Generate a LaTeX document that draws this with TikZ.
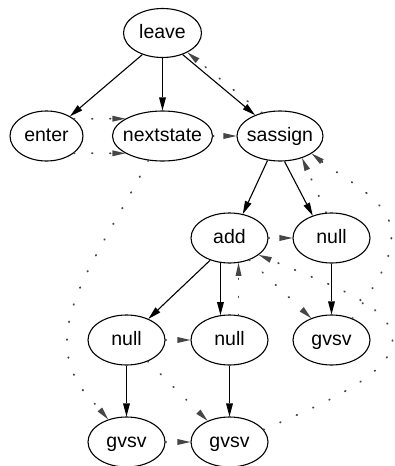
\documentclass[tikz,border=0pt]{standalone}
\usepackage{fontspec}
\setmainfont{Liberation Sans}
\usetikzlibrary{shapes.geometric,arrows.meta}
\definecolor{nextgray}{RGB}{70,70,70}
% zero-width label with fixed height/depth so all baselines line up
\newcommand\opname[1]{\makebox[0pt]{\vphantom{lg}#1}}

\begin{document}
\begin{tikzpicture}[x=1pt,y=-1pt,
  op/.style={ellipse, draw=black, line width=1.1pt, inner sep=0pt,
    minimum width=77pt, minimum height=50pt,
    font=\fontsize{19.5pt}{22pt}\selectfont},
  child/.style={draw=black, line width=1.1pt,
    -{Triangle[length=13pt,width=7pt,line width=0pt]}},
  link/.style={draw=nextgray, line width=1.9pt, line cap=round,
    dash pattern=on 0.6pt off 17.4pt,
    -{Triangle[length=13pt,width=6pt,line width=0pt]}}]
\useasboundingbox (0,0) rectangle (394,466);

% op tree
\node[op, minimum width=78pt, minimum height=49pt] (leave) at (162.5,33) {\opname{leave}};
\node[op, minimum width=73pt] (enter) at (46.5,136) {\opname{enter}};
\node[op, minimum width=100pt] (nextstate) at (162.5,136) {\opname{nextstate}};
\node[op, minimum width=86pt] (sassign) at (280,136) {\opname{sassign}};
\node[op] (add) at (229.5,238) {\opname{add}};
\node[op] (nullR) at (331.5,238) {\opname{null}};
\node[op] (nullL) at (126.5,340) {\opname{null}};
\node[op] (nullM) at (229.5,340) {\opname{null}};
\node[op] (gvsvR) at (331.5,340) {\opname{gvsv}};
\node[op] (gvsvL) at (126.5,442) {\opname{gvsv}};
\node[op] (gvsvM) at (229.5,442) {\opname{gvsv}};

% parent -> child
\draw[child] (leave.-133) -- (enter.40);
\draw[child] (leave.south) -- (nextstate.north);
\draw[child] (leave.-47) -- (sassign.140);
\draw[child] (sassign.-117) -- (add.61);
\draw[child] (sassign.-80) -- (nullR.130);
\draw[child] (add.-131) -- (nullL.44);
\draw[child] (add.-110) -- (nullM.110);
\draw[child] (nullR) -- (gvsvR);
\draw[child] (nullL) -- (gvsvL);
\draw[child] (nullM) -- (gvsvM);

% sibling and execution-order links
\draw[link] (enter.32) -- (nextstate.155);
\draw[link] (enter.-32) -- (nextstate.-155);
\draw[link] (nextstate) -- (sassign);
\draw[link] (add) -- (nullR);
\draw[link] (nullL) -- (nullM);
\draw[link] (gvsvL) -- (gvsvM);
\draw[link] (nextstate.-120) .. controls (110,235) and (68,290) .. (67,340)
  .. controls (66,380) and (92,400) .. (gvsvL.129);
\draw[link] (nullL.-45) -- (gvsvM.136);
\draw[link] (gvsvM.20) .. controls (320,405) and (393,375) .. (392.5,340)
  .. controls (392,305) and (330,285) .. (add.-30);
\draw[link] (nullM.70) -- (add.-70);
\draw[link] (add.-48) -- (gvsvR.133);
\draw[link] (gvsvR.46) .. controls (375,285) and (392,262) .. (391.5,234)
  .. controls (391,200) and (345,180) .. (sassign.-29);
\draw[link] (nullR.102) -- (sassign.-45);
\draw[link] (sassign.128) -- (leave.-38);
\end{tikzpicture}
\end{document}
